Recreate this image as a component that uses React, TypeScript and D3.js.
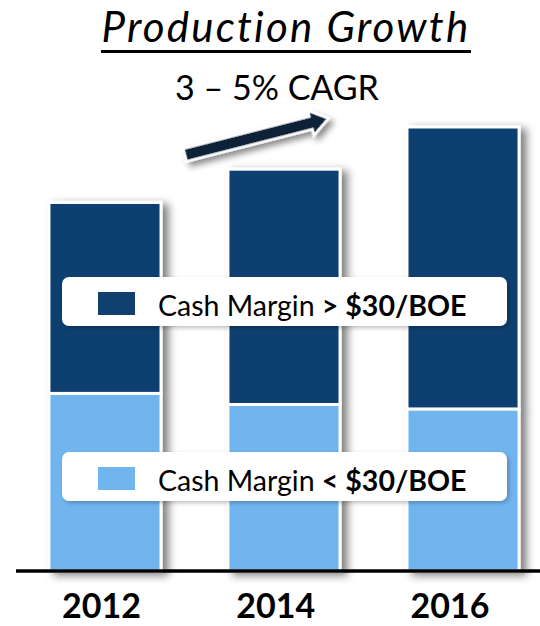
import React from "react";
import * as d3 from "d3";

// chart values (relative production units)
const years = ["2012", "2014", "2016"];
const marginBelow30 = [40, 37.5, 36.5];
const marginAbove30 = [43, 53, 63.5];
const seriesKeys = ["below", "above"];
const seriesColors = ["#71b5ef", "#0f406f"];

const legendRows = [
  { text: "Cash Margin ", bold: "> $30/BOE", color: "#0f406f" },
  { text: "Cash Margin ", bold: "< $30/BOE", color: "#71b5ef" },
];

const TITLE = "Production Growth";
const SUBTITLE = "3 – 5% CAGR";

const W = 540;
const H = 626;
const FONT = "Lato, 'Open Sans', sans-serif";

export default function App() {
  const x = d3
    .scaleBand()
    .domain(years)
    .range([16, 552])
    .paddingInner(0.374)
    .paddingOuter(0.184);
  const y = d3.scaleLinear().domain([0, 100]).range([571, 127]);
  const labelX = d3.scalePoint().domain(years).range([101.5, 450]);

  const rows = years.map((yr, i) => ({
    year: yr,
    below: marginBelow30[i],
    above: marginAbove30[i],
  }));
  const stacked = d3.stack<any>().keys(seriesKeys)(rows);

  // arrow shape, drawn along +x then rotated
  const L = 148;
  const head = 18;
  const arrowPts: [number, number][] = [
    [0, -6.5],
    [L - head, -6.5],
    [L - head, -12.5],
    [L, 0],
    [L - head, 12.5],
    [L - head, 6.5],
    [0, 6.5],
  ];

  const legendTop = [277, 452];

  return (
    <svg
      width={W}
      height={H}
      style={{ position: "absolute", left: 0, top: 0, background: "#fff" }}
      fontFamily={FONT}
    >
      <defs>
        <filter id="barShadow" x="-20%" y="-10%" width="150%" height="130%">
          <feDropShadow dx="6" dy="3" stdDeviation="4.5" floodColor="#000" floodOpacity="0.5" />
        </filter>
        <filter id="boxShadow" x="-5%" y="-20%" width="110%" height="150%">
          <feDropShadow dx="2" dy="2" stdDeviation="2" floodColor="#000" floodOpacity="0.25" />
        </filter>
        <filter id="arrowShadow" x="-20%" y="-50%" width="140%" height="200%">
          <feDropShadow dx="3" dy="5" stdDeviation="3" floodColor="#000" floodOpacity="0.45" />
        </filter>
      </defs>

      {/* title */}
      <text
        x={286}
        y={42}
        textAnchor="middle"
        fontSize={42}
        fontStyle="italic"
        letterSpacing={2.2}
        fill="#000"
      >
        {TITLE}
      </text>
      <rect x={101} y={50} width={370} height={3} fill="#000" />
      <text x={277} y={100} textAnchor="middle" fontSize={34} fill="#000">
        {SUBTITLE}
      </text>

      {/* bars */}
      <g filter="url(#barShadow)">
        {years.map((yr, i) => (
          <g key={yr}>
            {stacked.map((s, k) => (
              <rect
                key={k}
                x={x(yr)}
                y={y(s[i][1])}
                width={x.bandwidth()}
                height={y(s[i][0]) - y(s[i][1])}
                fill={seriesColors[k]}
                stroke="#fff"
                strokeWidth={3}
              />
            ))}
          </g>
        ))}
      </g>

      {/* growth arrow */}
      <g filter="url(#arrowShadow)" transform="translate(185,155) rotate(-14.3)">
        <polygon
          points={arrowPts.map((p) => p.join(",")).join(" ")}
          fill="#0b2239"
          stroke="#fff"
          strokeWidth={2.5}
          strokeLinejoin="miter"
        />
      </g>

      {/* legend boxes */}
      {legendRows.map((r, i) => (
        <g key={i} transform={`translate(62,${legendTop[i]})`}>
          <rect
            width={445}
            height={49}
            rx={7}
            fill="#fff"
            filter="url(#boxShadow)"
          />
          <rect x={36} y={15} width={37} height={23} fill={r.color} />
          <text x={96} y={39} fontSize={28.5} fill="#000">
            {r.text}
            <tspan fontWeight="bold">{r.bold}</tspan>
          </text>
        </g>
      ))}

      {/* baseline */}
      <line x1={16} x2={540} y1={571} y2={571} stroke="#000" strokeWidth={3.5} />

      {/* year labels */}
      {years.map((yr) => (
        <text
          key={yr}
          x={labelX(yr)}
          y={618}
          textAnchor="middle"
          fontSize={34}
          fontWeight="bold"
          fill="#000"
        >
          {yr}
        </text>
      ))}
    </svg>
  );
}
